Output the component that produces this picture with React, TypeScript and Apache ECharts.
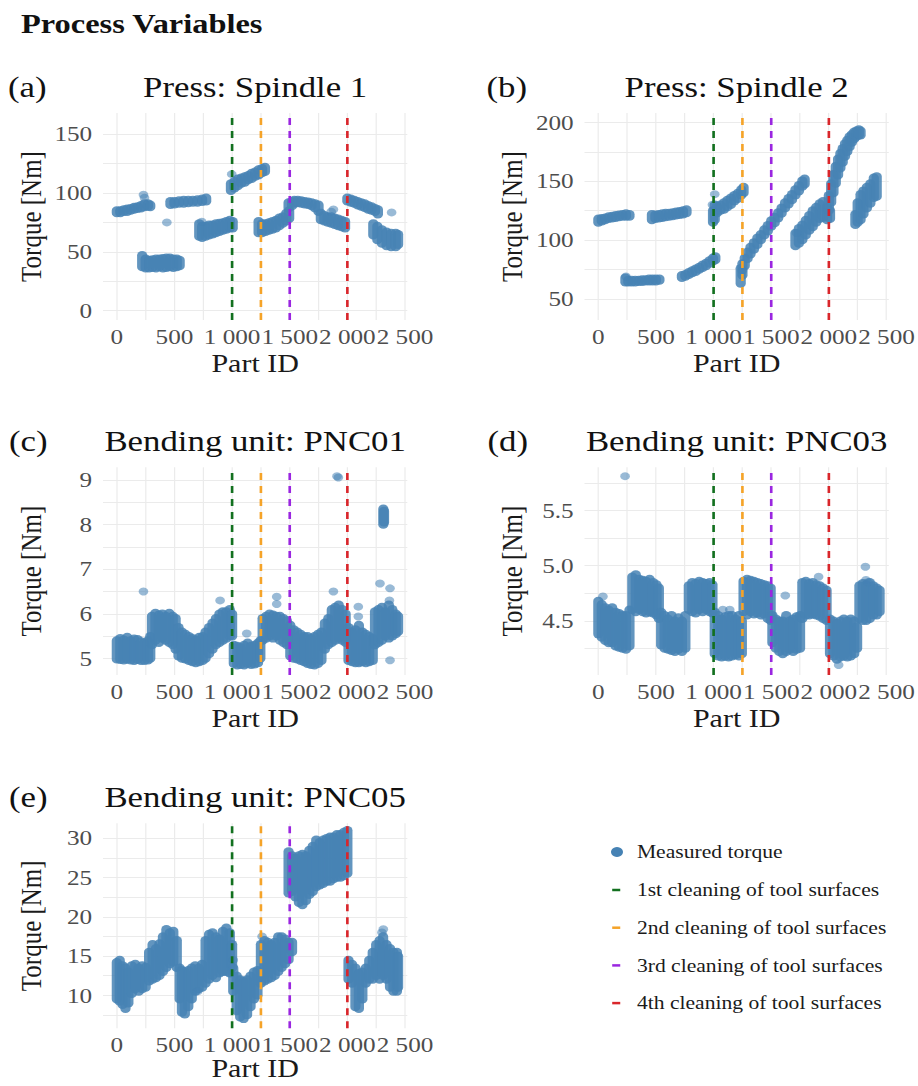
import React, { useEffect, useRef } from 'react';
import * as echarts from 'echarts';

// ---------------- data ----------------
const CLEANING_NAMES = [
  '1st cleaning of tool surfaces',
  '2nd cleaning of tool surfaces',
  '3rd cleaning of tool surfaces',
  '4th cleaning of tool surfaces',
];
const CLEANING_PART_IDS = [1000, 1250, 1500, 2000];

const PANEL_TAGS = ['(a)', '(b)', '(c)', '(d)', '(e)'];
const PANEL_TITLES = ['Press: Spindle 1', 'Press: Spindle 2', 'Bending unit: PNC01', 'Bending unit: PNC03', 'Bending unit: PNC05'];

const X_RANGE = [-120, 2520];
const X_TICK_STEP = 250;
const X_LABEL_STEP = 500;

// y ranges [min, max], grid step, label step, decimals
const Y_MIN = [-8, 32, 4.63, 4.01, 5.8];
const Y_MAX = [168, 208, 9.28, 5.89, 31.9];
const Y_GRID_STEP = [25, 25, 0.5, 0.25, 2.5];
const Y_LABEL_STEP = [50, 50, 1, 0.5, 5];
const Y_DECIMALS = [0, 0, 0, 1, 0];

// measured torque: dense runs as [part id, low, high]
const SPINDLE1_RUNS = [
  [0, 83, 85], [30, 83, 85], [60, 84, 86], [90, 84, 86.5], [120, 85, 87], [150, 86, 88], [180, 86.5, 88.5], [210, 87, 89.5], [240, 88, 91], [270, 88.5, 91], [290, 88, 90],
  [220, 37, 47], [250, 36, 44], [280, 36, 43], [310, 36.5, 43.5], [340, 36, 44], [370, 37, 44], [400, 36, 44.5], [430, 36.5, 45], [460, 37, 45], [490, 36.5, 44], [520, 37, 44], [545, 38, 43],
  [465, 90, 93], [500, 90.5, 93], [540, 91, 93.5], [580, 91, 94], [620, 91.5, 94], [660, 92, 94], [700, 92, 94.5], [740, 92.5, 95], [775, 93, 96],
  [715, 63, 74], [740, 62, 72], [770, 63, 72], [800, 64, 73], [830, 65, 73], [860, 66, 74], [890, 67, 74.5], [920, 68, 75], [950, 69, 76], [980, 70, 77], [1005, 70, 76],
  [990, 102, 108], [1020, 104, 110], [1050, 106, 112],
  [1080, 108, 113], [1110, 109, 114], [1140, 111, 115], [1170, 112, 117], [1200, 114, 118], [1230, 115, 120], [1260, 117, 121], [1285, 118, 122],
  [1230, 66, 76], [1260, 66, 74], [1290, 67, 74], [1320, 68, 75], [1350, 69, 76], [1380, 70, 77], [1410, 72, 79], [1440, 74, 80], [1470, 76, 83], [1495, 78, 85],
  [1490, 87, 92], [1520, 89, 93],
  [1540, 91, 94], [1570, 91.5, 94], [1600, 91, 93.5], [1630, 90.5, 93], [1660, 90, 92.5], [1690, 89, 92], [1720, 87, 91], [1750, 84, 90],
  [1770, 77, 83], [1800, 76, 81], [1830, 75, 80], [1860, 74, 80], [1890, 73, 79], [1920, 72, 78], [1950, 71, 77], [1980, 70, 76],
  [2000, 93, 96], [2030, 92, 95], [2060, 91, 94], [2090, 89.5, 93], [2120, 88.5, 92], [2150, 87.5, 91], [2180, 86, 89.5], [2210, 85, 88.5], [2240, 84, 87], [2265, 82, 86],
  [2225, 64, 74], [2260, 60, 72], [2300, 57, 69], [2340, 55, 67], [2380, 54, 66], [2420, 54, 66], [2440, 56, 65],
];
const SPINDLE1_POINTS = [[231, 98.5], [240, 96], [434, 75], [737, 75.5], [997, 116], [1879, 86], [1860, 84], [2384, 83.5]];

const SPINDLE2_RUNS = [
  [0, 115, 118], [30, 116, 118.5], [60, 117, 119], [90, 118, 120], [120, 118.5, 120.5], [150, 119, 121], [180, 119.5, 121.5], [210, 120, 122], [240, 120, 122.5], [270, 120, 122],
  [235, 64, 68], [260, 64, 66], [290, 64, 66], [320, 64, 66], [350, 64.5, 66], [380, 64.5, 66.5], [410, 65, 66.5], [440, 65, 67], [470, 65, 67], [500, 65, 67], [530, 65.5, 67],
  [465, 117, 122], [495, 118, 121.5], [525, 118.5, 122], [555, 119, 122.5], [585, 119.5, 123], [615, 120, 123], [645, 120.5, 123.5], [675, 121, 124], [705, 121.5, 124.5], [735, 122, 125], [765, 123, 126],
  [725, 68, 70], [755, 69, 71], [785, 70.5, 72.5], [815, 72, 74], [845, 73, 75.5], [875, 75, 77], [905, 76.5, 79], [935, 78, 80.5], [965, 80, 82.5], [995, 82, 85], [1015, 83, 86],
  [995, 115, 125], [1010, 117, 130],
  [1030, 123, 129], [1060, 125, 130], [1090, 126, 132], [1120, 128, 134], [1150, 130, 136], [1180, 133, 138], [1210, 135, 140], [1240, 138, 143], [1260, 140, 145],
  [1235, 63, 76], [1250, 70, 80], [1270, 78, 85], [1295, 84, 90], [1320, 88, 94], [1350, 92, 98], [1380, 96, 102], [1410, 100, 105], [1440, 104, 109], [1470, 107.5, 112.5], [1500, 111.5, 116.5], [1530, 114.5, 119.5], [1560, 118.5, 123.5], [1590, 122.5, 127.5], [1620, 127, 132], [1650, 130.5, 135.5], [1680, 134, 139], [1710, 138, 143], [1740, 141.5, 146.5], [1770, 145.5, 150.5], [1790, 147.5, 152],
  [1710, 95, 106], [1740, 97, 110], [1770, 100, 113], [1800, 104, 117], [1830, 108, 121], [1860, 111, 125], [1890, 115, 128], [1920, 118, 131], [1950, 119, 133], [1985, 117, 128], [2010, 118, 125],
  [2000, 125, 138], [2020, 132, 148], [2040, 140, 156], [2060, 148, 163], [2080, 155, 169], [2100, 161, 174], [2120, 166, 178], [2140, 171, 182], [2160, 175, 185], [2180, 179, 188], [2200, 183, 190], [2220, 186, 192], [2240, 188, 193], [2260, 189, 194], [2275, 189, 193],
  [2230, 113, 122], [2250, 115, 132], [2275, 117, 139], [2300, 122, 142], [2330, 127, 145], [2360, 131, 148], [2390, 136, 153], [2415, 137, 154],
];
const SPINDLE2_POINTS = [[240, 69], [1010, 139], [990, 130], [1250, 74], [1720, 106]];

const PNC01_RUNS = [
  [0, 4.98, 5.4], [30, 4.97, 5.45], [60, 4.96, 5.42], [90, 4.98, 5.48], [120, 4.96, 5.4], [150, 4.95, 5.44], [180, 4.97, 5.43], [210, 4.95, 5.38], [240, 4.95, 5.35], [270, 4.96, 5.4], [290, 5.0, 5.5],
  [305, 5.3, 5.95], [335, 5.4, 6.02], [365, 5.35, 5.98], [395, 5.45, 6.0], [425, 5.4, 5.95], [455, 5.35, 6.02], [485, 5.3, 5.95], [510, 5.2, 5.9],
  [535, 5.05, 5.7], [565, 5.0, 5.6], [595, 4.98, 5.55], [625, 4.95, 5.5], [655, 4.92, 5.45], [685, 4.9, 5.42], [715, 4.92, 5.48], [745, 4.95, 5.5],
  [770, 5.0, 5.6], [800, 5.1, 5.7], [830, 5.2, 5.8], [860, 5.3, 5.9], [890, 5.35, 6.0], [920, 5.4, 6.05], [950, 5.45, 6.05], [980, 5.5, 6.1], [1000, 5.5, 6.0],
  [1015, 4.88, 5.3], [1045, 4.85, 5.28], [1075, 4.86, 5.25], [1105, 4.85, 5.3], [1135, 4.88, 5.35], [1165, 4.86, 5.28], [1195, 4.87, 5.3], [1225, 4.9, 5.35], [1245, 5.0, 5.4],
  [1265, 5.4, 5.9], [1295, 5.45, 5.95], [1325, 5.5, 6.0], [1355, 5.45, 5.98], [1385, 5.5, 5.95], [1415, 5.4, 5.95], [1445, 5.35, 5.9], [1475, 5.3, 5.85],
  [1505, 5.05, 5.75], [1535, 5.0, 5.65], [1565, 4.98, 5.6], [1595, 4.95, 5.55], [1625, 4.92, 5.5], [1655, 4.88, 5.5], [1685, 4.86, 5.45], [1715, 4.85, 5.5], [1745, 4.88, 5.55], [1775, 4.95, 5.6],
  [1805, 5.2, 5.8], [1835, 5.3, 5.9], [1865, 5.35, 6.1], [1895, 5.4, 6.15], [1925, 5.45, 6.2], [1955, 5.4, 6.1], [1985, 5.35, 6.0],
  [2010, 4.95, 5.7], [2040, 4.92, 5.6], [2070, 4.9, 5.65], [2100, 4.9, 5.75], [2130, 4.92, 5.6], [2160, 4.9, 5.55], [2190, 4.92, 5.5], [2220, 4.95, 5.45],
  [2240, 5.3, 6.05], [2270, 5.35, 6.1], [2300, 5.4, 6.15], [2330, 5.5, 6.05], [2360, 5.45, 6.2], [2390, 5.5, 6.1], [2420, 5.55, 6.0], [2440, 5.6, 5.95],
  [2312, 8.0, 8.35], [2318, 8.05, 8.3],
];
const PNC01_POINTS = [[231, 6.5], [896, 6.3], [1127, 5.56], [1387, 6.38], [1387, 6.22], [1879, 6.5], [1922, 9.05], [1910, 9.08], [2095, 6.16], [2095, 5.94], [2283, 6.68], [2370, 6.57], [2370, 4.96], [2365, 6.3]];

const PNC03_RUNS = [
  [0, 4.38, 4.68], [30, 4.35, 4.65], [60, 4.32, 4.62], [90, 4.3, 4.6], [120, 4.3, 4.62], [150, 4.27, 4.58], [180, 4.26, 4.57], [210, 4.25, 4.55], [240, 4.24, 4.55], [270, 4.27, 4.6],
  [295, 4.6, 4.9], [325, 4.58, 4.92], [355, 4.6, 4.88], [385, 4.58, 4.87], [415, 4.57, 4.86], [445, 4.58, 4.88], [475, 4.57, 4.85], [505, 4.55, 4.83], [525, 4.52, 4.8],
  [545, 4.28, 4.58], [575, 4.25, 4.55], [605, 4.24, 4.52], [635, 4.23, 4.55], [665, 4.22, 4.5], [695, 4.24, 4.53], [725, 4.22, 4.5], [755, 4.25, 4.55],
  [785, 4.6, 4.82], [815, 4.58, 4.85], [845, 4.57, 4.84], [875, 4.6, 4.86], [905, 4.58, 4.85], [935, 4.6, 4.84], [965, 4.58, 4.85], [990, 4.57, 4.83],
  [1010, 4.2, 4.58], [1040, 4.18, 4.55], [1070, 4.17, 4.52], [1100, 4.18, 4.54], [1130, 4.17, 4.55], [1160, 4.18, 4.55], [1190, 4.19, 4.52], [1220, 4.18, 4.55], [1245, 4.2, 4.5],
  [1260, 4.58, 4.86], [1290, 4.55, 4.88], [1320, 4.58, 4.87], [1350, 4.56, 4.86], [1380, 4.57, 4.85], [1410, 4.55, 4.84], [1440, 4.56, 4.83], [1470, 4.52, 4.82], [1495, 4.5, 4.8],
  [1510, 4.3, 4.55], [1540, 4.25, 4.52], [1570, 4.22, 4.5], [1600, 4.2, 4.5], [1630, 4.22, 4.55], [1660, 4.24, 4.5], [1690, 4.22, 4.52], [1720, 4.24, 4.54], [1750, 4.25, 4.55],
  [1770, 4.52, 4.85], [1800, 4.55, 4.86], [1830, 4.55, 4.84], [1860, 4.56, 4.85], [1890, 4.55, 4.83], [1920, 4.54, 4.82], [1950, 4.52, 4.8], [1980, 4.5, 4.78],
  [2010, 4.2, 4.52], [2040, 4.18, 4.5], [2070, 4.15, 4.48], [2100, 4.17, 4.5], [2130, 4.18, 4.52], [2160, 4.17, 4.5], [2190, 4.18, 4.52], [2220, 4.2, 4.5], [2245, 4.25, 4.45],
  [2265, 4.52, 4.82], [2295, 4.5, 4.84], [2325, 4.5, 4.83], [2355, 4.52, 4.85], [2385, 4.55, 4.82], [2415, 4.55, 4.8], [2440, 4.58, 4.78],
];
const PNC03_POINTS = [[232, 5.81], [40, 4.72], [1622, 4.73], [1911, 4.9], [2085, 4.1], [2317, 4.99], [2322, 4.87], [1080, 4.6], [1140, 4.6], [2340, 4.85]];

const PNC05_RUNS = [
  [0, 9.5, 14.2], [25, 9.2, 14.5], [50, 8.8, 13.8], [75, 8.3, 13.5], [100, 9.0, 13.0], [130, 10.2, 13.8], [160, 10.8, 14.0], [190, 10.5, 13.5], [220, 10.8, 13.8], [250, 11.0, 13.6],
  [280, 11.8, 15.5], [310, 12.0, 16.5], [340, 12.2, 16.0], [370, 12.5, 16.6], [400, 13.0, 17.5], [430, 13.5, 18.4], [460, 14.0, 18.0], [490, 14.2, 18.2], [520, 13.5, 17.0],
  [545, 9.5, 13.5], [565, 7.8, 13.2], [590, 7.6, 13.0], [620, 8.5, 13.2], [650, 9.5, 13.5], [680, 10.5, 13.8], [710, 10.8, 13.5], [740, 11.0, 14.0],
  [770, 11.5, 17.0], [800, 12.0, 17.8], [830, 12.5, 18.0], [860, 12.2, 17.5], [890, 12.8, 17.2], [920, 13.0, 18.2], [950, 13.0, 18.6], [980, 12.8, 18.0], [1000, 13.5, 16.5],
  [1010, 10.5, 13.5], [1040, 8.0, 12.5], [1070, 7.2, 12.0], [1100, 7.0, 11.8], [1130, 7.5, 12.0], [1160, 8.5, 12.5], [1190, 9.5, 13.0], [1220, 10.0, 13.2],
  [1250, 11.5, 16.5], [1280, 11.8, 17.0], [1310, 12.0, 16.8], [1340, 12.2, 16.5], [1370, 12.5, 16.8], [1400, 13.0, 17.5], [1430, 13.5, 17.5], [1460, 14.0, 17.2], [1490, 14.5, 16.8], [1520, 15.5, 16.8],
  [1490, 23.0, 28.3], [1520, 23.2, 27.8], [1550, 22.5, 27.5], [1580, 21.8, 27.8], [1610, 21.5, 28.0], [1640, 22.0, 27.8], [1670, 22.8, 28.5], [1700, 23.2, 29.0], [1730, 23.8, 29.8], [1760, 24.0, 29.5],
  [1790, 24.2, 29.8], [1820, 24.5, 30.0], [1850, 24.5, 30.2], [1880, 24.8, 30.2], [1910, 25.0, 30.5], [1940, 25.0, 30.5], [1970, 25.2, 30.8], [2000, 25.5, 31.0],
  [2010, 12.0, 14.5], [2040, 11.5, 14.0], [2070, 8.5, 13.5], [2100, 8.3, 12.8], [2130, 9.5, 13.0], [2160, 11.5, 13.5], [2190, 12.0, 14.5], [2220, 12.0, 15.5],
  [2250, 12.5, 16.5], [2280, 12.0, 17.0], [2310, 12.5, 17.5], [2340, 12.0, 16.5], [2370, 11.0, 16.0], [2400, 10.5, 15.5], [2430, 10.5, 15.5], [2440, 11.0, 15.0],
];
const PNC05_POINTS = [[2312, 18.4], [2300, 18.0], [1010, 14.5], [1260, 17.5], [700, 10.5]];

const RUNS = [SPINDLE1_RUNS, SPINDLE2_RUNS, PNC01_RUNS, PNC03_RUNS, PNC05_RUNS];
const POINTS = [SPINDLE1_POINTS, SPINDLE2_POINTS, PNC01_POINTS, PNC03_POINTS, PNC05_POINTS];

// ---------------- styling / layout ----------------
const SX = 1.2; // the reference is horizontally stretched
const PAGE_W = 918;
const PAGE_H = 1086;
const W = PAGE_W / SX;
const FONT = "'Liberation Serif', 'Times New Roman', Times, serif";
const DOT = '#4682B4';
const LINE_COLORS = ['#12701F', '#F5A328', '#9A26E0', '#D9262B'];
const PANEL_W = 304.3; // page px
const PANEL_POS = [
  { left: 103, top: 113, height: 207 },
  { left: 584.5, top: 113, height: 207 },
  { left: 103, top: 467.3, height: 207.7 },
  { left: 584.5, top: 467.3, height: 207.7 },
  { left: 103, top: 823.3, height: 205 },
];
const X_NAME_GAP = [31, 31, 31, 31, 28];
const TAG_LEFT = [8, 486.5, 9, 487.5, 9];

const isMultiple = (v: number, s: number) => Math.abs(v / s - Math.round(v / s)) < 1e-6;
const fmtX = (v: number) => {
  if (v < 0 || !isMultiple(v, X_LABEL_STEP)) return '';
  if (v >= 1000) return `${Math.floor(v / 1000)} ${String(Math.round(v % 1000)).padStart(3, '0')}`;
  return String(Math.round(v));
};

function buildOption() {
  const grid: any[] = [];
  const xAxis: any[] = [];
  const yAxis: any[] = [];
  const series: any[] = [];
  const graphic: any[] = [];

  graphic.push({
    type: 'text', x: 17.5, y: 23, silent: true,
    style: { text: 'Process Variables', fontFamily: FONT, fontSize: 27, fontWeight: 'bold', fill: '#111', align: 'left', verticalAlign: 'middle' },
  });

  PANEL_POS.forEach((p, i) => {
    const left = p.left / SX;
    const width = PANEL_W / SX;
    grid.push({ left, top: p.top, width, height: p.height, containLabel: false, outerBoundsMode: 'none' });
    xAxis.push({
      gridIndex: i, type: 'value', min: X_RANGE[0], max: X_RANGE[1], minInterval: X_TICK_STEP, maxInterval: X_TICK_STEP,
      axisLine: { show: false }, axisTick: { show: false },
      splitLine: { show: true, showMinLine: false, showMaxLine: false, lineStyle: { color: '#EBEBEB', width: 1 } },
      axisLabel: { formatter: fmtX, color: '#4D4D4D', fontFamily: FONT, fontSize: 21, margin: 6, showMinLabel: false, showMaxLabel: false },
      name: 'Part ID', nameLocation: 'middle', nameGap: X_NAME_GAP[i], nameMoveOverlap: false,
      nameTextStyle: { fontFamily: FONT, fontSize: 25, color: '#1A1A1A' },
    });
    const step = Y_LABEL_STEP[i];
    const dec = Y_DECIMALS[i];
    yAxis.push({
      gridIndex: i, type: 'value', min: Y_MIN[i], max: Y_MAX[i], minInterval: Y_GRID_STEP[i], maxInterval: Y_GRID_STEP[i],
      axisLine: { show: false }, axisTick: { show: false },
      splitLine: { show: true, showMinLine: false, showMaxLine: false, lineStyle: { color: '#EBEBEB', width: 1 } },
      axisLabel: {
        formatter: (v: number) => (isMultiple(v, step) ? v.toFixed(dec) : ''),
        color: '#4D4D4D', fontFamily: FONT, fontSize: 21, margin: 9, showMinLabel: false, showMaxLabel: false,
      },
      name: 'Torque [Nm]', nameLocation: 'middle', nameRotate: 90, nameGap: 48, nameMoveOverlap: false,
      nameTextStyle: { fontFamily: FONT, fontSize: 25, color: '#1A1A1A' },
    });

    series.push({
      type: 'scatter', name: 'Measured torque', xAxisIndex: i, yAxisIndex: i, data: POINTS[i],
      symbol: 'circle', symbolSize: 8, itemStyle: { color: DOT, opacity: 0.55 }, z: 2, silent: true,
    });
    series.push({
      type: 'custom', name: 'Measured torque', xAxisIndex: i, yAxisIndex: i, data: RUNS[i],
      encode: { x: 0, y: [1, 2] }, z: 2, silent: true,
      renderItem: (_params: any, api: any) => {
        const x = api.value(0);
        const a = api.coord([x, api.value(1)]);
        const b = api.coord([x, api.value(2)]);
        const w = 8.5;
        const top = Math.min(a[1], b[1]) - w / 2;
        return {
          type: 'rect',
          shape: { x: a[0] - w / 2, y: top, width: w, height: Math.abs(a[1] - b[1]) + w, r: w / 2 },
          style: { fill: DOT, opacity: 0.85 },
        };
      },
    });
    CLEANING_PART_IDS.forEach((pid, k) => {
      series.push({
        type: 'line', name: CLEANING_NAMES[k], xAxisIndex: i, yAxisIndex: i,
        data: [[pid, Y_MIN[i]], [pid, Y_MAX[i]]],
        symbol: 'none', color: LINE_COLORS[k], silent: true, z: 4,
        lineStyle: { color: LINE_COLORS[k], width: 2.2, type: [7, 6] },
      });
    });

    const cx = left + width / 2;
    const cy = p.top - 16 - 9.8;
    graphic.push({
      type: 'text', x: cx, y: cy, silent: true,
      style: { text: PANEL_TITLES[i], fontFamily: FONT, fontSize: 29, fill: '#111', align: 'center', verticalAlign: 'middle' },
    });
    graphic.push({
      type: 'text', x: TAG_LEFT[i] / SX, y: cy, silent: true,
      style: { text: PANEL_TAGS[i], fontFamily: FONT, fontSize: 29, fill: '#111', align: 'left', verticalAlign: 'middle' },
    });
  });

  return {
    animation: false,
    backgroundColor: '#ffffff',
    grid, xAxis, yAxis, series, graphic,
    legend: [
      {
        orient: 'vertical', left: 611 / SX, top: 843, padding: 0, itemWidth: 10, itemHeight: 10, selectedMode: false,
        data: [{ name: 'Measured torque', icon: 'circle', itemStyle: { color: DOT, opacity: 1 } }],
        textStyle: { fontFamily: FONT, fontSize: 18, color: '#1A1A1A', padding: [0, 0, 0, 6.6] },
      },
      {
        orient: 'vertical', left: 612.2 / SX, top: 881, padding: 0, itemWidth: 6.7, itemHeight: 2.5, itemGap: 19.7, selectedMode: false,
        data: CLEANING_NAMES.map((n, k) => ({ name: n, icon: 'rect', itemStyle: { color: LINE_COLORS[k], borderWidth: 0 } })),
        textStyle: { fontFamily: FONT, fontSize: 18, color: '#1A1A1A', padding: [0, 0, 0, 8.9] },
      },
    ],
  };
}

export default function App() {
  const ref = useRef<HTMLDivElement>(null);
  useEffect(() => {
    if (!ref.current) return;
    const chart = echarts.init(ref.current, undefined, { renderer: 'svg' });
    chart.setOption(buildOption() as any);
    return () => chart.dispose();
  }, []);
  return (
    <div
      ref={ref}
      style={{
        position: 'absolute', left: 0, top: 0, width: W, height: PAGE_H,
        transform: `scaleX(${SX})`, transformOrigin: '0 0', background: '#fff',
      }}
    />
  );
}
